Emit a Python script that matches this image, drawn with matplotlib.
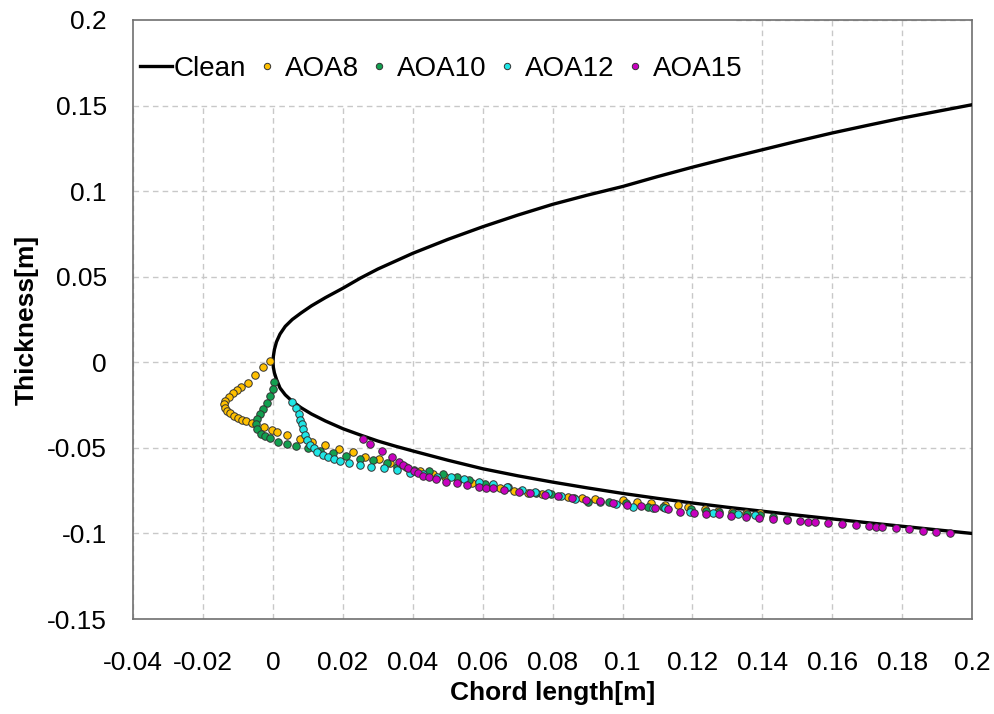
import matplotlib
matplotlib.use("Agg")
import matplotlib.pyplot as plt
import matplotlib.patches as mpatches
from matplotlib.ticker import FuncFormatter, MultipleLocator

plt.rcParams['font.family'] = ['Liberation Sans', 'DejaVu Sans']

# --- 데이터 ---
# Clean 익형: 윗면(뒤→앞) 다음 아랫면(앞→뒤)
clean_x = [0.2, 0.19, 0.18, 0.17, 0.16, 0.15, 0.14, 0.13, 0.12, 0.11, 0.10, 0.09, 0.08, 0.07,
           0.06, 0.05, 0.04, 0.03, 0.025, 0.02, 0.015, 0.011, 0.008, 0.0055, 0.0035, 0.002,
           0.001, 0.0004, 0.0001, 0.0,
           0.0001, 0.0004, 0.001, 0.002, 0.0035, 0.0055, 0.008, 0.011, 0.015, 0.02, 0.025,
           0.03, 0.035, 0.04, 0.05, 0.06, 0.07, 0.08, 0.09, 0.10, 0.11, 0.12, 0.13, 0.14,
           0.15, 0.16, 0.17, 0.18, 0.19, 0.20]
clean_y = [0.1505, 0.1466, 0.1427, 0.1384, 0.1340, 0.1292, 0.1242, 0.1192, 0.1140, 0.1085,
           0.1027, 0.0977, 0.0923, 0.0860, 0.0792, 0.0718, 0.0637, 0.0545, 0.0492, 0.0433,
           0.0378, 0.0330, 0.0288, 0.0250, 0.0210, 0.0165, 0.0120, 0.0075, 0.0035, 0.0,
           -0.0030, -0.0062, -0.0100, -0.0150, -0.0190, -0.0228, -0.0265, -0.0302, -0.0343,
           -0.0388, -0.0425, -0.0460, -0.0490, -0.0518, -0.0572, -0.0622, -0.0663, -0.0700,
           -0.0734, -0.0766, -0.0795, -0.0822, -0.0847, -0.0870, -0.0893, -0.0915, -0.0937,
           -0.0958, -0.0979, -0.1000]

aoa8_x = [-0.0010, -0.0029, -0.0051, -0.0073, -0.0091, -0.0103, -0.0115, -0.0127, -0.0136, -0.0139,
          -0.0136, -0.0133, -0.0122, -0.0111, -0.0100, -0.0088, -0.0076, -0.0061, -0.0027, -0.0003,
          0.0011, 0.0040, 0.0076, 0.0111, 0.0149, 0.0188, 0.0228, 0.0264, 0.0304, 0.0335, 0.0380,
          0.0421, 0.0459, 0.0492, 0.0530, 0.0569, 0.0610, 0.0650, 0.0690, 0.0730, 0.0770, 0.0845,
          0.0883, 0.0921, 0.1002, 0.1042, 0.1080, 0.1121, 0.1159, 0.1187, 0.1235, 0.1273, 0.1314,
          0.1354, 0.1392]
aoa8_y = [0.0010, -0.0029, -0.0072, -0.0119, -0.0142, -0.0162, -0.0181, -0.0204, -0.0226, -0.0245,
          -0.0265, -0.0284, -0.0298, -0.0314, -0.0327, -0.0337, -0.0345, -0.0353, -0.0380, -0.0395,
          -0.0407, -0.0423, -0.0446, -0.0464, -0.0483, -0.0504, -0.0526, -0.0551, -0.0567, -0.0588,
          -0.0612, -0.0635, -0.0652, -0.0672, -0.0688, -0.0707, -0.0722, -0.0737, -0.0752, -0.0762,
          -0.0772, -0.0785, -0.0795, -0.0800, -0.0806, -0.0816, -0.0824, -0.0834, -0.0836, -0.0843,
          -0.0859, -0.0867, -0.0873, -0.0879, -0.0882]

aoa10_x = [0.0002, 0.0000, -0.0008, -0.0018, -0.0029, -0.0038, -0.0047, -0.0050, -0.0045, -0.0035,
           -0.0023, -0.0010, 0.0015, 0.0040, 0.0066, 0.0100, 0.0135, 0.0173, 0.0208, 0.0249, 0.0286,
           0.0325, 0.0356, 0.0402, 0.0445, 0.0485, 0.0525, 0.0562, 0.0605, 0.0673, 0.0752, 0.0794,
           0.0860, 0.0902, 0.0960, 0.1011, 0.1073, 0.1116, 0.1197, 0.1240, 0.1276, 0.1316, 0.1356,
           0.1392, 0.1431, 0.1469]
aoa10_y = [-0.0113, -0.0157, -0.0199, -0.0240, -0.0273, -0.0302, -0.0333, -0.0361, -0.0388, -0.0416,
           -0.0430, -0.0444, -0.0463, -0.0475, -0.0489, -0.0503, -0.0518, -0.0530, -0.0546, -0.0563,
           -0.0573, -0.0590, -0.0610, -0.0629, -0.0637, -0.0652, -0.0672, -0.0688, -0.0710, -0.0727,
           -0.0762, -0.0771, -0.0790, -0.0814, -0.0815, -0.0824, -0.0843, -0.0843, -0.0859, -0.0867,
           -0.0873, -0.0879, -0.0886, -0.0892, -0.0905, -0.0917]

aoa12_x = [0.0054, 0.0066, 0.0073, 0.0078, 0.0083, 0.0087, 0.0091, 0.0097, 0.0105, 0.0116, 0.0127,
           0.0143, 0.0157, 0.0175, 0.0191, 0.0218, 0.0249, 0.0281, 0.0317, 0.0354, 0.0392, 0.0430,
           0.0470, 0.0509, 0.0547, 0.0588, 0.0630, 0.0670, 0.0711, 0.0750, 0.0787, 0.0825, 0.0864,
           0.0935, 0.0980, 0.1030, 0.1086, 0.1121, 0.1192, 0.1260, 0.1330, 0.1380]
aoa12_y = [-0.0230, -0.0265, -0.0300, -0.0335, -0.0360, -0.0391, -0.0423, -0.0452, -0.0481, -0.0502,
           -0.0522, -0.0541, -0.0551, -0.0563, -0.0576, -0.0586, -0.0600, -0.0612, -0.0618, -0.0631,
           -0.0645, -0.0655, -0.0668, -0.0672, -0.0683, -0.0697, -0.0711, -0.0727, -0.0746, -0.0756,
           -0.0765, -0.0780, -0.0798, -0.0814, -0.0830, -0.0847, -0.0853, -0.0853, -0.0873, -0.0880,
           -0.0886, -0.0890]

aoa15_x = [0.0257, 0.0278, 0.0311, 0.0340, 0.0359, 0.0371, 0.0385, 0.0402, 0.0416, 0.0430, 0.0447,
           0.0467, 0.0495, 0.0525, 0.0554, 0.0590, 0.0609, 0.0630, 0.0661, 0.0705, 0.0735, 0.0778,
           0.0816, 0.0855, 0.0895, 0.0935, 0.0973, 0.1013, 0.1054, 0.1092, 0.1130, 0.1164, 0.1203,
           0.1240, 0.1276, 0.1311, 0.1352, 0.1389, 0.1429, 0.1469, 0.1507, 0.1531, 0.1550, 0.1588,
           0.1627, 0.1668, 0.1705, 0.1726, 0.1743, 0.1781, 0.1819, 0.1859, 0.1897, 0.1937]
aoa15_y = [-0.0450, -0.0475, -0.0518, -0.0555, -0.0581, -0.0600, -0.0619, -0.0633, -0.0648, -0.0664,
           -0.0668, -0.0682, -0.0697, -0.0707, -0.0717, -0.0730, -0.0736, -0.0736, -0.0746, -0.0756,
           -0.0765, -0.0775, -0.0781, -0.0795, -0.0802, -0.0810, -0.0820, -0.0834, -0.0839, -0.0853,
           -0.0859, -0.0873, -0.0879, -0.0886, -0.0888, -0.0896, -0.0902, -0.0908, -0.0917, -0.0921,
           -0.0927, -0.0935, -0.0935, -0.0940, -0.0944, -0.0950, -0.0956, -0.0964, -0.0964, -0.0970,
           -0.0975, -0.0984, -0.0989, -0.0995]

SERIES = [("AOA8", aoa8_x, aoa8_y, "#FFC000"),
          ("AOA10", aoa10_x, aoa10_y, "#12A050"),
          ("AOA12", aoa12_x, aoa12_y, "#1EE6E6"),
          ("AOA15", aoa15_x, aoa15_y, "#C800C0")]

# --- 그림 ---
fig = plt.figure(figsize=(9.94, 7.14), dpi=100, facecolor='white')
ax = fig.add_axes([0.134, 0.133, 0.844, 0.839])

ax.plot(clean_x, clean_y, color='black', lw=2.4, label='Clean', zorder=3,
        solid_joinstyle='round')
for name, xs, ys, clr in SERIES:
    ax.plot(xs, ys, ls='none', marker='o', ms=5.4, mfc=clr, mec='#333333', mew=0.7,
            label=name, zorder=4)

ax.set_xlim(-0.04, 0.2); ax.set_ylim(-0.15, 0.2)
ax.xaxis.set_major_locator(MultipleLocator(0.02))
ax.yaxis.set_major_locator(MultipleLocator(0.05))
fmt = FuncFormatter(lambda v, p: '%g' % round(v, 4))
ax.xaxis.set_major_formatter(fmt); ax.yaxis.set_major_formatter(fmt)
ax.tick_params(axis='both', length=0, labelsize=19, colors='black')
ax.tick_params(axis='x', pad=23)
ax.tick_params(axis='y', pad=19)

ax.set_axisbelow(True)
ax.grid(True, color='#c8c8c8', ls=(0, (4, 3)), lw=1.0)
for s in ax.spines.values():
    s.set_color('#707070'); s.set_linewidth(1.2)

# 범례 뒤 흰 배경 (격자선 가림)
ax.add_patch(mpatches.Rectangle((0, 0.858), 0.717, 0.142, transform=ax.transAxes,
                                facecolor='white', edgecolor='none', zorder=1))

ax.set_xlabel('Chord length[m]', fontsize=19, fontweight='bold', labelpad=4)
ax.set_ylabel('Thickness[m]', fontsize=19, fontweight='bold', labelpad=6)

leg = ax.legend(loc='center left', bbox_to_anchor=(0.008, 0.918), ncol=5, frameon=False,
                fontsize=20, handlelength=1.15, handletextpad=0.08, columnspacing=0.15,
                borderpad=0, borderaxespad=0, markerscale=0.85)

fig.savefig('out.png', dpi=100)
